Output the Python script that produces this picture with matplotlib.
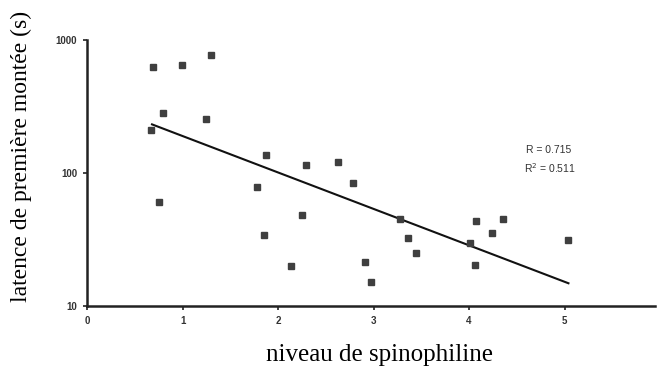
import numpy as np
import matplotlib.pyplot as plt

# niveau de spinophiline vs latence (s)
spino = [0.69, 0.99, 1.30, 0.80, 1.25, 0.67, 0.75, 1.87, 1.78, 2.29, 2.63, 2.78,
         2.25, 1.85, 2.14, 3.28, 3.36, 3.44, 2.91, 2.97, 4.07, 4.35, 4.24, 4.01,
         4.06, 5.04]
latence = [623, 649, 775, 281, 256, 212, 61, 137, 79, 114, 122, 84,
           48, 34, 20, 45, 32.5, 25, 21.3, 15.1, 43.6, 45.3, 35.6, 29.6,
           20.2, 31.3]

# regression line in log10 space
fit_x = [0.68, 5.04]
fit_slope = -0.274
fit_intercept = 2.552

x_ticks = [0, 1, 2, 3, 4, 5]
y_ticks = [10, 100, 1000]
stats_lines = ["R = 0.715", "R$^2$ = 0.511"]

fig = plt.figure(figsize=(6.57, 3.69), dpi=100)
ax = fig.add_axes([0.1325, 0.1707, 0.865, 0.7209])

ax.plot(spino, latence, linestyle='none', marker='s', markersize=4,
        color='#3f3f3f', zorder=3)

fx = np.array(fit_x)
ax.plot(fx, 10 ** (fit_intercept + fit_slope * fx), color='#111111', lw=1.5, zorder=2)

ax.set_yscale('log')
ax.set_ylim(10, 1000)
ax.set_xlim(0, 5.95)
ax.set_xticks(x_ticks)
ax.set_xticklabels([str(t) for t in x_ticks])
ax.set_yticks(y_ticks)
ax.set_yticklabels([str(t) for t in y_ticks])
ax.minorticks_off()

for s in ['top', 'right']:
    ax.spines[s].set_visible(False)
for s in ['left', 'bottom']:
    ax.spines[s].set_linewidth(1.8)
    ax.spines[s].set_color('#222222')

ax.tick_params(axis='both', length=3, width=1.2, color='#222222',
               labelsize=7, labelcolor='#333333', pad=4)
for lab in ax.get_xticklabels() + ax.get_yticklabels():
    lab.set_fontweight('bold')
    lab.set_family('Liberation Sans')

ax.text(0.773, 0.586, stats_lines[0], transform=ax.transAxes, fontsize=7.5,
        color='#333333', family='Liberation Sans', va='center')
ax.text(0.768, 0.519, stats_lines[1], transform=ax.transAxes, fontsize=7.5,
        color='#333333', family='Liberation Sans', va='center')

fig.text(0.578, 0.038, 'niveau de spinophiline', family='Liberation Serif',
         fontsize=18, ha='center', va='center')
fig.text(0.033, 0.577, 'latence de première montée (s)', rotation=90,
         family='Liberation Serif', fontsize=17, ha='center', va='center')

plt.savefig('out.png', dpi=100)
